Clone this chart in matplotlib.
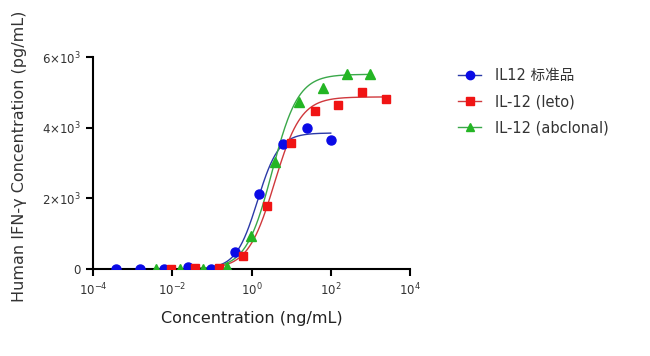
import numpy as np
import matplotlib
matplotlib.use("Agg")
import matplotlib.pyplot as plt
from matplotlib.lines import Line2D

plt.rcParams['font.family'] = ['DejaVu Sans', 'Noto Sans CJK SC']

# ---- data ----
labels = ["IL12 标准品", "IL-12 (leto)", "IL-12 (abclonal)"]

conc_std = [100, 25, 6.25, 1.5625, 0.390625, 0.09765625, 0.0244, 0.0061, 0.00153, 0.00038]
resp_std = [3660, 3990, 3550, 2120, 490, 10, 57, 5, 5, 5]

conc_leto = [2500, 625, 156.25, 39.06, 9.77, 2.44, 0.61, 0.153, 0.038, 0.0095]
resp_leto = [4810, 5010, 4630, 4460, 3560, 1770, 360, 28, 28, 0]

conc_abc = [1000, 250, 62.5, 15.6, 3.9, 0.977, 0.244, 0.061, 0.0153, 0.0038]
resp_abc = [5520, 5520, 5110, 4730, 3040, 920, 45, 0, 0, 0]

# 4PL fit parameters: bottom, top, logEC50, hill
fit_std = (0, 3850, 0.15, 1.6)
fit_leto = (0, 4870, 0.58, 1.3)
fit_abc = (0, 5510, 0.52, 1.32)

marker_colors = ["#0a0ae6", "#f01414", "#24b524"]
curve_colors = ["#2b3aa8", "#d0383c", "#3aa84a"]
markers = ["o", "s", "^"]


def fourpl(logx, p):
    b, t, le, h = p
    return b + (t - b) / (1 + 10 ** ((le - logx) * h))


fig = plt.figure(figsize=(6.5, 3.56), dpi=100)
ax = fig.add_axes([93 / 650, 1 - 269 / 356, (410 - 93) / 650, (269 - 57) / 356])

series = [(conc_std, resp_std, fit_std), (conc_leto, resp_leto, fit_leto), (conc_abc, resp_abc, fit_abc)]
handles = []
for i, (c, r, p) in enumerate(series):
    c = np.array(c)
    lx = np.linspace(np.log10(c.min()), np.log10(c.max()), 300)
    ax.plot(10 ** lx, fourpl(lx, p), color=curve_colors[i], lw=1.0, zorder=2)
    ms = 6.5 if markers[i] != "s" else 6.0
    ax.plot(c, r, linestyle="none", marker=markers[i], ms=ms, color=marker_colors[i],
            mec=marker_colors[i], zorder=3 + i)
    handles.append(Line2D([], [], color=curve_colors[i], lw=1.0, marker=markers[i],
                          ms=6, mfc=marker_colors[i], mec=marker_colors[i]))

ax.set_xscale("log")
ax.set_xlim(1e-4, 1e4)
ax.set_ylim(0, 6000)
ax.set_xticks([1e-4, 1e-2, 1e0, 1e2, 1e4])
ax.set_xticklabels([r"$10^{-4}$", r"$10^{-2}$", r"$10^{0}$", r"$10^{2}$", r"$10^{4}$"])
ax.xaxis.set_minor_locator(matplotlib.ticker.NullLocator())
ax.set_yticks([0, 2000, 4000, 6000])
ax.set_yticklabels(["0", r"$2{\times}10^{3}$", r"$4{\times}10^{3}$", r"$6{\times}10^{3}$"])

for s in ["top", "right"]:
    ax.spines[s].set_visible(False)
for s in ["left", "bottom"]:
    ax.spines[s].set_linewidth(1.5)
ax.tick_params(axis="both", direction="out", width=1.5, length=5, labelsize=8.5,
               labelcolor="#333333", pad=4)
ax.spines["left"].set_bounds(0, 6000)

fig.text(20 / 650, 1 - 156 / 356, "Human IFN-γ Concentration (pg/mL)", rotation=90,
         ha="center", va="center", fontsize=11.5, color="#333333")
fig.text(252 / 650, 1 - 318 / 356, "Concentration (ng/mL)", ha="center", va="center",
         fontsize=11.5, color="#222222")

leg = fig.legend(handles, labels, loc="upper left", bbox_to_anchor=(445 / 650, 1 - 55 / 356),
                 frameon=False, fontsize=10.5, handlelength=1.6, labelspacing=0.75,
                 handletextpad=0.9, labelcolor="#333333")
for t in leg.get_texts():
    t.set_family(['DejaVu Sans', 'Noto Sans CJK SC'])

fig.savefig("out.png", dpi=100)
